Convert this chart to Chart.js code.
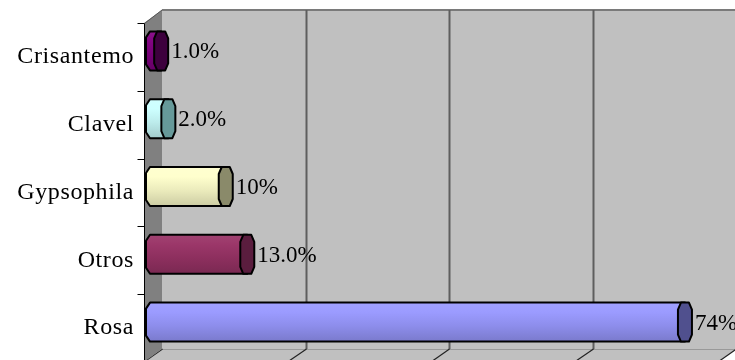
<!DOCTYPE html>
<html>
<head>
<meta charset="utf-8">
<script src="https://cdn.jsdelivr.net/npm/chart.js@4.4.0/dist/chart.umd.min.js"></script>
<style>
  html, body { margin: 0; padding: 0; background: #ffffff; }
  #wrap { width: 735px; height: 360px; }
</style>
</head>
<body>
<div id="wrap"><canvas id="myChart" width="735" height="360"></canvas></div>
<script>
const labels = ['Crisantemo', 'Clavel', 'Gypsophila', 'Otros', 'Rosa'];
const shares = [1, 2, 10, 13, 74];
const shareText = ['1.0%', '2.0%', '10%', '13.0%', '74%'];
const gridSteps = [0, 20, 40, 60, 80];

const bodyColors = ['#800080', '#ccffff', '#ffffcc', '#993366', '#9999ff'];
const capColors = ['#3d003d', '#669999', '#8a8a6a', '#5a1d3e', '#50508e'];

// depth of the 3d box: front plane and back wall offsets
const FRONT = { dx: -7, dy: 6 };
const BACK = { dx: 11, dy: -7 };
const FONT = "'Times New Roman', 'Liberation Serif', serif";

function shade(hex, amt) {
  const n = parseInt(hex.slice(1), 16);
  let r = n >> 16, g = (n >> 8) & 255, b = n & 255;
  const t = amt < 0 ? 0 : 255;
  const p = Math.abs(amt);
  r = Math.round(r + (t - r) * p);
  g = Math.round(g + (t - g) * p);
  b = Math.round(b + (t - b) * p);
  return `rgb(${r},${g},${b})`;
}

const spacing = {
  id: 'spacing',
  beforeDraw(chart) {
    chart.ctx.letterSpacing = '0.6px';
  }
};

const box3d = {
  id: 'box3d',
  beforeDatasetsDraw(chart) {
    const ctx = chart.ctx;
    const x = chart.scales.x, y = chart.scales.y;
    const area = chart.chartArea;
    const x0 = x.getPixelForValue(0);
    const xMax = x.getPixelForValue(80);
    const top = area.top, bottom = area.bottom;
    ctx.save();

    // back wall
    ctx.fillStyle = '#c0c0c0';
    ctx.fillRect(x0 + BACK.dx, top + BACK.dy, chart.width - (x0 + BACK.dx), bottom - top);

    // floor
    ctx.beginPath();
    ctx.moveTo(x0 + BACK.dx, bottom + BACK.dy);
    ctx.lineTo(xMax + BACK.dx, bottom + BACK.dy);
    ctx.lineTo(xMax + FRONT.dx, bottom + FRONT.dy);
    ctx.lineTo(x0 + FRONT.dx, bottom + FRONT.dy);
    ctx.closePath();
    ctx.fill();

    // top edge + bottom edge of the back wall
    ctx.strokeStyle = '#7a7a7a';
    ctx.lineWidth = 2;
    ctx.beginPath();
    ctx.moveTo(x0 + BACK.dx, top + BACK.dy);
    ctx.lineTo(chart.width, top + BACK.dy);
    ctx.stroke();
    ctx.strokeStyle = '#999999';
    ctx.lineWidth = 1;
    ctx.beginPath();
    ctx.moveTo(x0 + BACK.dx, bottom + BACK.dy + 0.5);
    ctx.lineTo(chart.width, bottom + BACK.dy + 0.5);
    ctx.stroke();

    // gridlines on back wall and floor
    gridSteps.forEach(v => {
      const gx = Math.round(x.getPixelForValue(v) + BACK.dx) + 0.5;
      if (v > 0) {
        ctx.strokeStyle = '#5e5e5e';
        ctx.lineWidth = 2;
        ctx.beginPath();
        ctx.moveTo(gx, top + BACK.dy);
        ctx.lineTo(gx, bottom + BACK.dy);
        ctx.stroke();
      }
      ctx.lineWidth = 1.2;
      ctx.strokeStyle = '#222222';
      ctx.beginPath();
      ctx.moveTo(gx, bottom + BACK.dy);
      ctx.lineTo(x.getPixelForValue(v) + FRONT.dx, bottom + FRONT.dy);
      ctx.stroke();
    });

    // left side wall
    ctx.fillStyle = '#808080';
    ctx.beginPath();
    ctx.moveTo(x0 + FRONT.dx, top + FRONT.dy);
    ctx.lineTo(x0 + BACK.dx, top + BACK.dy);
    ctx.lineTo(x0 + BACK.dx, bottom + BACK.dy);
    ctx.lineTo(x0 + FRONT.dx, bottom + FRONT.dy);
    ctx.closePath();
    ctx.fill();

    // front axis line and category ticks
    const ax = Math.round(x0 + FRONT.dx) + 0.5;
    ctx.strokeStyle = '#000000';
    ctx.lineWidth = 1;
    ctx.beginPath();
    ctx.moveTo(ax, top + FRONT.dy);
    ctx.lineTo(ax, bottom + FRONT.dy);
    ctx.stroke();
    const step = y.getPixelForValue(1) - y.getPixelForValue(0);
    for (let i = 0; i <= labels.length; i++) {
      const ty = Math.round(top + i * step + FRONT.dy) + 0.5;
      ctx.beginPath();
      ctx.moveTo(ax - 7, ty);
      ctx.lineTo(ax, ty);
      ctx.stroke();
    }
    ctx.strokeStyle = '#555555';
    ctx.beginPath();
    ctx.moveTo(ax, top + FRONT.dy + 0.5);
    ctx.lineTo(x0 + BACK.dx, top + BACK.dy);
    ctx.stroke();
    ctx.restore();
  },
  beforeDatasetDraw() {
    return false;
  },
  afterDatasetsDraw(chart) {
    const ctx = chart.ctx;
    const meta = chart.getDatasetMeta(0);
    const x = chart.scales.x;
    const left = x.getPixelForValue(0) - 5;
    ctx.save();
    meta.data.forEach((bar, i) => {
      const p = bar.getProps(['x', 'y', 'height'], true);
      const T = p.y - p.height / 2;
      const B = p.y + p.height / 2;
      const cx = p.x + 3;
      const base = bodyColors[i];

      // cylinder body with a beveled left end
      const g = ctx.createLinearGradient(0, T, 0, B);
      g.addColorStop(0, shade(base, 0.08));
      g.addColorStop(0.25, shade(base, 0.02));
      g.addColorStop(0.6, shade(base, -0.08));
      g.addColorStop(1, shade(base, -0.2));
      ctx.fillStyle = g;
      ctx.beginPath();
      ctx.moveTo(left + 4, T);
      ctx.lineTo(cx, T);
      ctx.lineTo(cx, B);
      ctx.lineTo(left + 4, B);
      ctx.lineTo(left, B - 6);
      ctx.lineTo(left, T + 6);
      ctx.closePath();
      ctx.fill();
      ctx.strokeStyle = '#000000';
      ctx.lineWidth = 2;
      ctx.lineJoin = 'round';
      ctx.stroke();

      // end cap
      ctx.fillStyle = capColors[i];
      ctx.beginPath();
      ctx.moveTo(cx - 4, T);
      ctx.lineTo(cx + 4, T);
      ctx.lineTo(cx + 7, T + 7);
      ctx.lineTo(cx + 7, B - 7);
      ctx.lineTo(cx + 4, B);
      ctx.lineTo(cx - 4, B);
      ctx.lineTo(cx - 7, B - 7);
      ctx.lineTo(cx - 7, T + 7);
      ctx.closePath();
      ctx.fill();
      ctx.stroke();

      // value label
      ctx.fillStyle = '#000000';
      ctx.font = `23px ${FONT}`;
      ctx.letterSpacing = '0px';
      ctx.textAlign = 'left';
      ctx.textBaseline = 'middle';
      ctx.fillText(shareText[i], cx + 10, p.y + 1.5);
    });
    ctx.restore();
  }
};

const data = {
  labels: labels,
  datasets: [{
    label: 'Participación',
    data: shares,
    backgroundColor: bodyColors,
    categoryPercentage: 1,
    barPercentage: 0.575
  }]
};

const config = {
  type: 'bar',
  data: data,
  plugins: [spacing, box3d],
  options: {
    indexAxis: 'y',
    responsive: false,
    animation: false,
    layout: { padding: { top: 17, bottom: 4, right: 10, left: 0 } },
    plugins: {
      legend: { display: false },
      tooltip: { enabled: false }
    },
    scales: {
      x: {
        display: false,
        min: 0,
        max: 80
      },
      y: {
        grid: { display: false, drawTicks: false },
        border: { display: false },
        ticks: {
          color: '#000000',
          font: { family: FONT, size: 24 },
          padding: 17,
          labelOffset: 6
        },
        afterFit(scale) {
          scale.width = 151;
          scale.paddingTop = 0;
          scale.paddingBottom = 0;
        }
      }
    }
  }
};

const myChart = new Chart(
  document.getElementById('myChart'),
  config
);
</script>
</body>
</html>
